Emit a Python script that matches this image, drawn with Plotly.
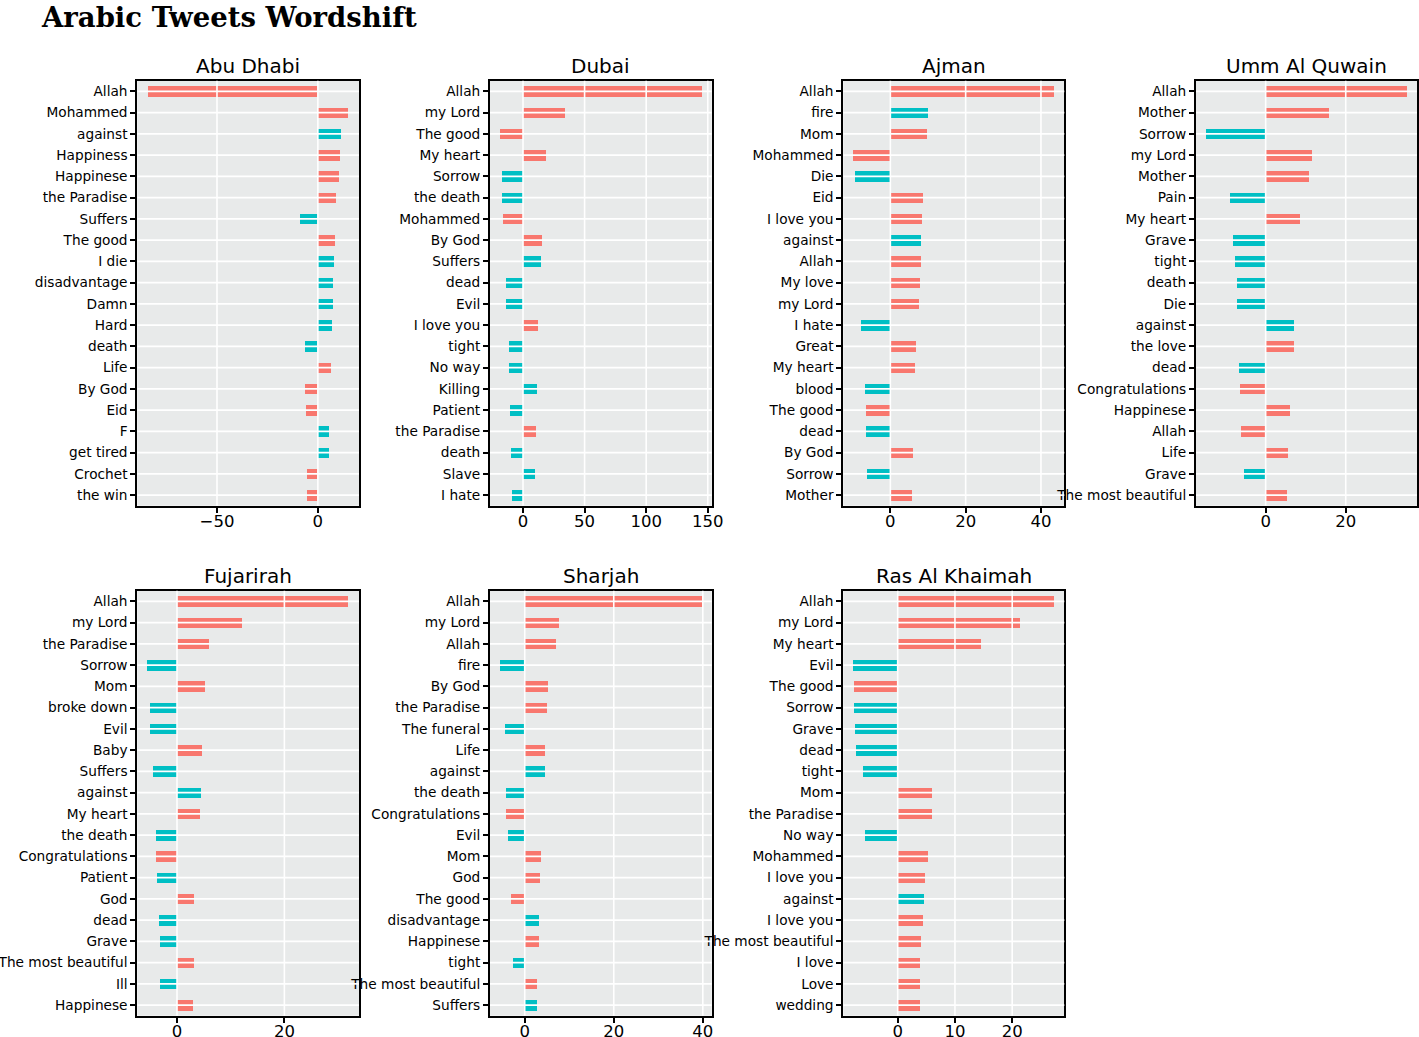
import plotly.graph_objects as go

# ---------------- data ----------------
abu_dhabi_words = ["Allah", "Mohammed", "against", "Happiness", "Happinese", "the Paradise", "Suffers",
                   "The good", "I die", "disadvantage", "Damn", "Hard", "death", "Life", "By God", "Eid",
                   "F", "get tired", "Crochet", "the win"]
abu_dhabi_values = [-84.2, 15.2, 11.5, 11.0, 10.7, 8.9, -8.6, 8.7, 8.1, 7.6, 7.6, 7.4, -6.4, 6.6, -6.1, -5.6,
                    5.9, 5.9, -5.3, -5.3]
abu_dhabi_sent = ["pos", "pos", "neg", "pos", "pos", "pos", "neg", "pos", "neg", "neg", "neg", "neg", "neg",
                  "pos", "pos", "pos", "neg", "neg", "pos", "pos"]

dubai_words = ["Allah", "my Lord", "The good", "My heart", "Sorrow", "the death", "Mohammed", "By God",
               "Suffers", "dead", "Evil", "I love you", "tight", "No way", "Killing", "Patient",
               "the Paradise", "death", "Slave", "I hate"]
dubai_values = [145.0, 34.1, -18.7, 18.4, -17.3, -16.8, -16.2, 15.1, 14.3, -13.8, -13.8, 11.9, -11.6, -11.4,
                11.1, -10.5, 10.3, -9.7, 9.5, -9.2]
dubai_sent = ["pos", "pos", "pos", "pos", "neg", "neg", "pos", "pos", "neg", "neg", "neg", "pos", "neg", "neg",
              "neg", "neg", "pos", "neg", "neg", "neg"]

ajman_words = ["Allah", "fire", "Mom", "Mohammed", "Die", "Eid", "I love you", "against", "Allah", "My love",
               "my Lord", "I hate", "Great", "My heart", "blood", "The good", "dead", "By God", "Sorrow",
               "Mother"]
ajman_values = [43.5, 10.0, 9.9, -9.8, -9.3, 8.7, 8.4, 8.15, 8.1, 8.0, 7.8, -7.6, 6.9, 6.5, -6.6, -6.5, -6.45,
                6.2, -6.1, 5.9]
ajman_sent = ["pos", "neg", "pos", "pos", "neg", "pos", "pos", "neg", "pos", "pos", "pos", "neg", "pos", "pos",
              "neg", "pos", "neg", "pos", "neg", "pos"]

uaq_words = ["Allah", "Mother", "Sorrow", "my Lord", "Mother", "Pain", "My heart", "Grave", "tight", "death",
             "Die", "against", "the love", "dead", "Congratulations", "Happinese", "Allah", "Life", "Grave",
             "The most beautiful"]
uaq_values = [35.3, 15.7, -14.8, 11.5, 10.7, -8.8, 8.5, -8.1, -7.6, -7.25, -7.25, 7.0, 7.0, -6.6, -6.5, 6.1,
              -6.2, 5.6, -5.4, 5.3]
uaq_sent = ["pos", "pos", "neg", "pos", "pos", "neg", "pos", "neg", "neg", "neg", "neg", "neg", "pos", "neg",
            "pos", "pos", "pos", "pos", "neg", "pos"]

fujairah_words = ["Allah", "my Lord", "the Paradise", "Sorrow", "Mom", "broke down", "Evil", "Baby", "Suffers",
                  "against", "My heart", "the death", "Congratulations", "Patient", "God", "dead", "Grave",
                  "The most beautiful", "Ill", "Happinese"]
fujairah_values = [31.9, 12.2, 5.96, -5.5, 5.2, -4.9, -4.9, 4.8, -4.4, 4.5, 4.4, -3.9, -3.8, -3.7, 3.3, -3.3,
                   -3.2, 3.2, -3.1, 3.1]
fujairah_sent = ["pos", "pos", "pos", "neg", "pos", "neg", "neg", "pos", "neg", "neg", "pos", "neg", "pos",
                 "neg", "pos", "neg", "neg", "pos", "neg", "pos"]

sharjah_words = ["Allah", "my Lord", "Allah", "fire", "By God", "the Paradise", "The funeral", "Life", "against",
                 "the death", "Congratulations", "Evil", "Mom", "God", "The good", "disadvantage", "Happinese",
                 "tight", "The most beautiful", "Suffers"]
sharjah_values = [39.8, 7.8, 7.0, -5.5, 5.3, 4.9, -4.35, 4.6, 4.6, -4.1, -4.1, -3.8, 3.7, 3.4, -3.0, 3.3, 3.1,
                  -2.6, 2.8, 2.8]
sharjah_sent = ["pos", "pos", "pos", "neg", "pos", "pos", "neg", "pos", "neg", "neg", "pos", "neg", "pos", "pos",
                "pos", "neg", "pos", "neg", "pos", "neg"]

rak_words = ["Allah", "my Lord", "My heart", "Evil", "The good", "Sorrow", "Grave", "dead", "tight", "Mom",
             "the Paradise", "No way", "Mohammed", "I love you", "against", "I love you", "The most beautiful",
             "I love", "Love", "wedding"]
rak_values = [27.3, 21.5, 14.6, -7.8, -7.6, -7.55, -7.4, -7.15, -6.05, 6.0, 6.0, -5.7, 5.4, 4.9, 4.6, 4.4, 4.2,
              3.95, 3.95, 3.95]
rak_sent = ["pos", "pos", "pos", "neg", "pos", "neg", "neg", "neg", "neg", "pos", "pos", "neg", "pos", "pos",
            "neg", "pos", "pos", "pos", "pos", "pos"]

panel_titles = ["Abu Dhabi", "Dubai", "Ajman", "Umm Al Quwain", "Fujarirah", "Sharjah", "Ras Al Khaimah"]
panel_words = [abu_dhabi_words, dubai_words, ajman_words, uaq_words, fujairah_words, sharjah_words, rak_words]
panel_values = [abu_dhabi_values, dubai_values, ajman_values, uaq_values, fujairah_values, sharjah_values,
                rak_values]
panel_sent = [abu_dhabi_sent, dubai_sent, ajman_sent, uaq_sent, fujairah_sent, sharjah_sent, rak_sent]
x_tickvals = [[-50, 0], [0, 50, 100, 150], [0, 20, 40], [0, 20], [0, 20], [0, 20, 40], [0, 10, 20]]
x_ranges = [[-89.5, 20.4], [-26.8, 153.2], [-12.5, 46.2], [-17.4, 37.8], [-7.4, 33.9], [-7.8, 42.0],
            [-9.5, 29.1]]

# ---------------- style ----------------
W, H = 1419, 1037
COLORS = {"pos": "#F8776E", "neg": "#00BFC4"}
BG = "#E8EAEA"
FONT = "DejaVu Sans"

# target pixel boxes on the page
col_px = [(137.3, 359.0), (490.0, 711.7), (843.3, 1064.3), (1196.0, 1417.0)]
row_px = [(80.7, 505.7), (590.7, 1015.7)]
positions = [(0, 0), (0, 1), (0, 2), (0, 3), (1, 0), (1, 1), (1, 2)]


def fx(p):
    return p / W


def fy(p):
    return 1 - p / H


fig = go.Figure()
shapes = []
annotations = []
layout_axes = {}

for k in range(7):
    r, c = positions[k]
    xd = [fx(col_px[c][0]), fx(col_px[c][1])]
    yd = [fy(row_px[r][1]), fy(row_px[r][0])]
    suffix = "" if k == 0 else str(k + 1)
    xname, yname = "x" + suffix, "y" + suffix
    n = len(panel_words[k])
    idx = list(range(n))
    fig.add_trace(go.Bar(
        x=panel_values[k], y=idx, orientation="h", width=0.5,
        marker=dict(color=[COLORS[s] for s in panel_sent[k]], line=dict(width=0)),
        xaxis=xname, yaxis=yname, showlegend=False,
        hovertext=panel_words[k],
    ))
    tv = x_tickvals[k]
    layout_axes["xaxis" + suffix] = dict(
        domain=xd, anchor=yname, range=x_ranges[k], tickvals=tv, automargin=False,
        ticktext=[("\u2212" + str(-v)) if v < 0 else str(v) for v in tv],
        showgrid=False, zeroline=False, showline=True, mirror=True, linecolor="black", linewidth=2,
        ticks="outside", ticklen=5, tickwidth=1.5, tickcolor="black", ticklabelstandoff=-6,
        tickfont=dict(family=FONT, size=16.5, color="black"),
    )
    layout_axes["yaxis" + suffix] = dict(
        domain=yd, anchor=xname, range=[n - 0.5, -0.5], tickvals=idx, ticktext=panel_words[k],
        automargin=False,
        showgrid=False, zeroline=False, showline=True, mirror=True, linecolor="black", linewidth=2,
        ticks="outside", ticklen=5, tickwidth=1.5, tickcolor="black",
        tickfont=dict(family=FONT, size=13.7, color="black"),
    )
    # white grid lines drawn above the bars
    for i in idx:
        shapes.append(dict(type="line", xref=xname + " domain", yref=yname, x0=0, x1=1, y0=i, y1=i,
                           line=dict(color="white", width=1.6), layer="above"))
    for v in tv:
        shapes.append(dict(type="line", xref=xname, yref=yname + " domain", x0=v, x1=v, y0=0, y1=1,
                           line=dict(color="white", width=1.6), layer="above"))
    annotations.append(dict(text=panel_titles[k], xref="paper", yref="paper", x=(xd[0] + xd[1]) / 2,
                            y=yd[1], xanchor="center", yanchor="bottom", yshift=1, showarrow=False,
                            font=dict(family=FONT, size=20, color="black")))

annotations.append(dict(text="<b>Arabic Tweets Wordshift</b>", xref="paper", yref="paper", x=fx(39),
                        y=fy(17), xanchor="left", yanchor="middle", showarrow=False,
                        font=dict(family="DejaVu Serif", size=27.5, color="black")))

fig.update_layout(
    width=W, height=H, margin=dict(l=0, r=0, t=0, b=0, autoexpand=False),
    paper_bgcolor="white", plot_bgcolor=BG, bargap=0,
    shapes=shapes, annotations=annotations, showlegend=False,
    **layout_axes,
)

fig.write_html("out.html", config={"displayModeBar": False},
               post_script="document.body.style.margin='0';document.body.style.overflow='hidden';")
